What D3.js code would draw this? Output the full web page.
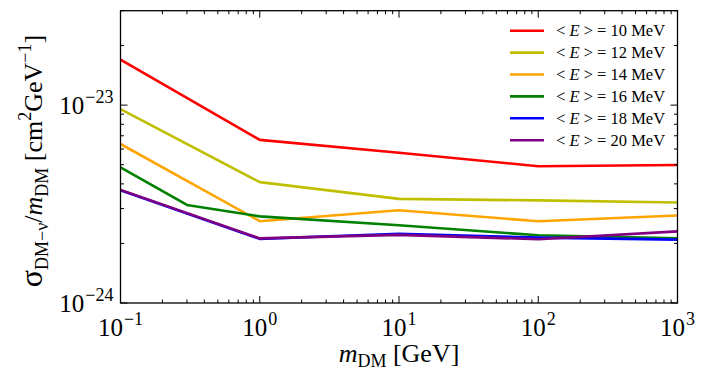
<!DOCTYPE html>
<html>
<head>
<meta charset="utf-8">
<script src="https://cdnjs.cloudflare.com/ajax/libs/d3/7.8.5/d3.min.js"></script>
<style>
  body { margin: 0; background: #fff; }
  svg text { font-family: 'Liberation Serif', 'Times New Roman', 'DejaVu Serif', serif; }
</style>
</head>
<body>
<svg id="chart" width="707" height="383"></svg>
<script>
// Данные
const MASSES = [0.1, 1, 10, 100, 1000];
const MASSES_16 = [0.1, 0.3, 1, 10, 100, 1000];
const ENERGIES = [10, 12, 14, 16, 18, 20];
const COLORS = ['#ff0000', '#bfbf00', '#ffa500', '#008000', '#0000ff', '#800080'];

const SIGMA_10 = [1.70e-23, 6.67e-24, 5.75e-24, 4.91e-24, 4.98e-24];
const SIGMA_12 = [9.55e-24, 4.08e-24, 3.36e-24, 3.30e-24, 3.22e-24];
const SIGMA_14 = [6.36e-24, 2.59e-24, 2.94e-24, 2.59e-24, 2.77e-24];
const SIGMA_16 = [4.85e-24, 3.13e-24, 2.74e-24, 2.47e-24, 2.20e-24, 2.12e-24];
const SIGMA_18 = [3.71e-24, 2.11e-24, 2.24e-24, 2.14e-24, 2.09e-24];
const SIGMA_20 = [3.73e-24, 2.12e-24, 2.21e-24, 2.10e-24, 2.30e-24];

const X_TICKS = [0.1, 1, 10, 100, 1000];
const X_TICK_EXP = ['−1', '0', '1', '2', '3'];
const Y_TICKS = [1e-24, 1e-23];
const Y_TICK_EXP = ['−24', '−23'];

const series = [
    { e: 10, x: MASSES, y: SIGMA_10 },
    { e: 12, x: MASSES, y: SIGMA_12 },
    { e: 14, x: MASSES, y: SIGMA_14 },
    { e: 16, x: MASSES_16, y: SIGMA_16 },
    { e: 18, x: MASSES, y: SIGMA_18 },
    { e: 20, x: MASSES, y: SIGMA_20 }
];

const FONT = "'Liberation Serif', 'Times New Roman', 'DejaVu Serif', serif";
const margin = { top: 10.7, right: 29.5, bottom: 80, left: 120.5 };
const W = 707, H = 383;
const width = W - margin.left - margin.right;
const height = 303 - margin.top;

const svg = d3.select('#chart').attr('font-family', FONT);
const g = svg.append('g').attr('transform', `translate(${margin.left},${margin.top})`);

const x = d3.scaleLog().domain([0.1, 1000]).range([0, width]);
const y = d3.scaleLog().domain([1e-24, 3e-23]).range([height, 0]);

// Линии
const line = d3.line().x(d => x(d[0])).y(d => y(d[1]));
series.forEach((s, i) => {
    g.append('path')
        .datum(s.x.map((m, j) => [m, s.y[j]]))
        .attr('fill', 'none')
        .attr('stroke', COLORS[i])
        .attr('stroke-width', 2.6)
        .attr('stroke-linejoin', 'round')
        .attr('d', line);
});

// Засечки внутрь на всех сторонах
function minorTicks(scale, lo, hi) {
    const out = [];
    const [d0, d1] = scale.domain();
    for (let p = lo; p < hi; p++) {
        for (let k = 1; k <= 9; k++) {
            const v = k * Math.pow(10, p);
            if (v >= d0 * 0.999 && v <= d1 * 1.001) out.push({ v, major: k === 1 });
        }
    }
    return out;
}
const xt = minorTicks(x, -1, 4);
const yt = minorTicks(y, -24, -22);

const tickG = g.append('g').attr('stroke', '#000').attr('stroke-width', 1);
xt.forEach(t => {
    const L = t.major ? 7 : 3.5;
    const px = x(t.v);
    tickG.append('line').attr('x1', px).attr('x2', px).attr('y1', height).attr('y2', height - L);
    tickG.append('line').attr('x1', px).attr('x2', px).attr('y1', 0).attr('y2', L);
});
yt.forEach(t => {
    const L = t.major ? 7 : 3.5;
    const py = y(t.v);
    tickG.append('line').attr('x1', 0).attr('x2', L).attr('y1', py).attr('y2', py);
    tickG.append('line').attr('x1', width).attr('x2', width - L).attr('y1', py).attr('y2', py);
});

// Рамка
g.append('rect')
    .attr('width', width).attr('height', height)
    .attr('fill', 'none').attr('stroke', '#000').attr('stroke-width', 1.3);

// Подписи засечек
X_TICKS.forEach((v, i) => {
    const t = g.append('text')
        .attr('font-family', FONT)
        .attr('x', x(v)).attr('y', height + 33)
        .attr('text-anchor', 'middle')
        .attr('font-size', 25);
    t.append('tspan').text('10');
    t.append('tspan').attr('dx', 1).attr('dy', -11).attr('font-size', 18).text(X_TICK_EXP[i]);
});
Y_TICKS.forEach((v, i) => {
    const t = g.append('text')
        .attr('font-family', FONT)
        .attr('x', -7).attr('y', y(v) + 9)
        .attr('text-anchor', 'end')
        .attr('font-size', 25);
    t.append('tspan').text('10');
    t.append('tspan').attr('dx', 1).attr('dy', -11).attr('font-size', 18).text(Y_TICK_EXP[i]);
});

// Подпись оси X
const xl = svg.append('text')
    .attr('font-family', FONT)
    .attr('x', margin.left + width / 2).attr('y', 362)
    .attr('text-anchor', 'middle')
    .attr('font-size', 26);
xl.append('tspan').attr('font-style', 'italic').text('m');
xl.append('tspan').attr('dy', 5).attr('font-size', 18).text('DM');
xl.append('tspan').attr('dy', -5).text(' [GeV]');

// Подпись оси Y
const yl = svg.append('text')
    .attr('font-family', FONT)
    .attr('transform', 'translate(42,161) rotate(-90)')
    .attr('text-anchor', 'middle')
    .attr('font-size', 26);
yl.append('tspan').attr('font-size', 32).text('σ');
yl.append('tspan').attr('dy', 6).attr('font-size', 18).text('DM−ν');
yl.append('tspan').attr('dy', -6).text('/');
yl.append('tspan').attr('font-style', 'italic').text('m');
yl.append('tspan').attr('dy', 6).attr('font-size', 18).text('DM');
yl.append('tspan').attr('dy', -6).text(' [cm');
yl.append('tspan').attr('dy', -11).attr('font-size', 18).text('2');
yl.append('tspan').attr('dy', 11).text('GeV');
yl.append('tspan').attr('dy', -11).attr('font-size', 18).text('−1');
yl.append('tspan').attr('dy', 11).text(']');

// Легенда
const leg = svg.append('g');
ENERGIES.forEach((e, i) => {
    const ly = 30.7 + i * 21.9;
    leg.append('line')
        .attr('x1', 510).attr('x2', 544).attr('y1', ly).attr('y2', ly)
        .attr('stroke', COLORS[i]).attr('stroke-width', 2.6);
    const t = leg.append('text')
        .attr('font-family', FONT)
        .attr('x', 556).attr('y', ly + 5.5)
        .attr('font-size', 16.5);
    t.append('tspan').text('< ');
    t.append('tspan').attr('font-style', 'italic').text('E');
    t.append('tspan').text(` > = ${e} MeV`);
});
</script>
</body>
</html>
